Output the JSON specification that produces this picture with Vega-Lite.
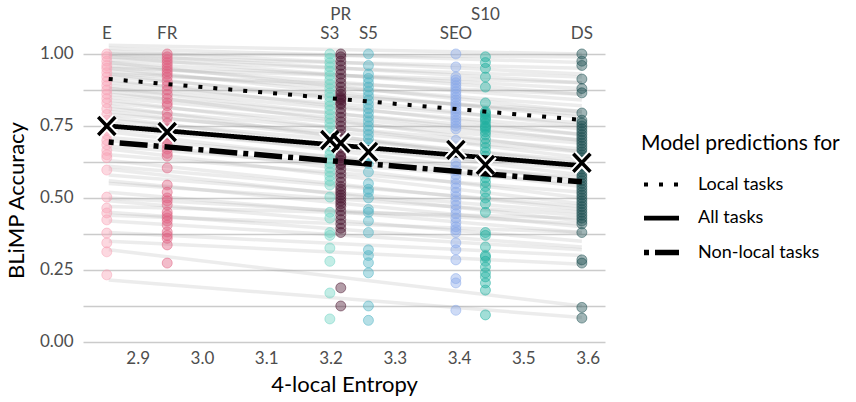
{
  "$schema": "https://vega.github.io/schema/vega-lite/v6.json",
  "width": 522,
  "height": 341,
  "autosize": {"type": "none"},
  "padding": {"left": 83, "top": 5, "right": 251, "bottom": 56},
  "background": "white",
  "config": {
    "font": "Lato",
    "view": {"stroke": null},
    "axis": {
      "ticks": false,
      "domain": false,
      "labelFont": "Lato",
      "labelFontSize": 17,
      "labelColor": "#4d4d4d",
      "titleFont": "Lato",
      "titleFontSize": 22,
      "titleFontWeight": "normal",
      "titleColor": "black",
      "labelOverlap": false
    }
  },
  "datasets": {
    "tasks": [
      {"task": 1, "entropy": 2.855, "accuracy": 1.03}, {"task": 1, "entropy": 3.591, "accuracy": 1.0},
      {"task": 2, "entropy": 2.855, "accuracy": 1.02}, {"task": 2, "entropy": 3.591, "accuracy": 0.97},
      {"task": 3, "entropy": 2.855, "accuracy": 1.01}, {"task": 3, "entropy": 3.591, "accuracy": 0.93},
      {"task": 4, "entropy": 2.855, "accuracy": 1.0}, {"task": 4, "entropy": 3.591, "accuracy": 0.99},
      {"task": 5, "entropy": 2.855, "accuracy": 1.0}, {"task": 5, "entropy": 3.591, "accuracy": 0.9},
      {"task": 6, "entropy": 2.855, "accuracy": 0.99}, {"task": 6, "entropy": 3.591, "accuracy": 0.95},
      {"task": 7, "entropy": 2.855, "accuracy": 0.99}, {"task": 7, "entropy": 3.591, "accuracy": 0.86},
      {"task": 8, "entropy": 2.855, "accuracy": 0.98}, {"task": 8, "entropy": 3.591, "accuracy": 0.92},
      {"task": 9, "entropy": 2.855, "accuracy": 0.97}, {"task": 9, "entropy": 3.591, "accuracy": 0.88},
      {"task": 10, "entropy": 2.855, "accuracy": 0.97}, {"task": 10, "entropy": 3.591, "accuracy": 0.8},
      {"task": 11, "entropy": 2.855, "accuracy": 0.96}, {"task": 11, "entropy": 3.591, "accuracy": 0.84},
      {"task": 12, "entropy": 2.855, "accuracy": 0.95}, {"task": 12, "entropy": 3.591, "accuracy": 0.9},
      {"task": 13, "entropy": 2.855, "accuracy": 0.95}, {"task": 13, "entropy": 3.591, "accuracy": 0.78},
      {"task": 14, "entropy": 2.855, "accuracy": 0.94}, {"task": 14, "entropy": 3.591, "accuracy": 0.82},
      {"task": 15, "entropy": 2.855, "accuracy": 0.93}, {"task": 15, "entropy": 3.591, "accuracy": 0.86},
      {"task": 16, "entropy": 2.855, "accuracy": 0.93}, {"task": 16, "entropy": 3.591, "accuracy": 0.75},
      {"task": 17, "entropy": 2.855, "accuracy": 0.92}, {"task": 17, "entropy": 3.591, "accuracy": 0.79},
      {"task": 18, "entropy": 2.855, "accuracy": 0.91}, {"task": 18, "entropy": 3.591, "accuracy": 0.72},
      {"task": 19, "entropy": 2.855, "accuracy": 0.9}, {"task": 19, "entropy": 3.591, "accuracy": 0.8},
      {"task": 20, "entropy": 2.855, "accuracy": 0.89}, {"task": 20, "entropy": 3.591, "accuracy": 0.76},
      {"task": 21, "entropy": 2.855, "accuracy": 0.88}, {"task": 21, "entropy": 3.591, "accuracy": 0.7},
      {"task": 22, "entropy": 2.855, "accuracy": 0.88}, {"task": 22, "entropy": 3.591, "accuracy": 0.74},
      {"task": 23, "entropy": 2.855, "accuracy": 0.87}, {"task": 23, "entropy": 3.591, "accuracy": 0.66},
      {"task": 24, "entropy": 2.855, "accuracy": 0.86}, {"task": 24, "entropy": 3.591, "accuracy": 0.72},
      {"task": 25, "entropy": 2.855, "accuracy": 0.85}, {"task": 25, "entropy": 3.591, "accuracy": 0.7},
      {"task": 26, "entropy": 2.855, "accuracy": 0.84}, {"task": 26, "entropy": 3.591, "accuracy": 0.64},
      {"task": 27, "entropy": 2.855, "accuracy": 0.83}, {"task": 27, "entropy": 3.591, "accuracy": 0.69},
      {"task": 28, "entropy": 2.855, "accuracy": 0.82}, {"task": 28, "entropy": 3.591, "accuracy": 0.6},
      {"task": 29, "entropy": 2.855, "accuracy": 0.81}, {"task": 29, "entropy": 3.591, "accuracy": 0.67},
      {"task": 30, "entropy": 2.855, "accuracy": 0.8}, {"task": 30, "entropy": 3.591, "accuracy": 0.62},
      {"task": 31, "entropy": 2.855, "accuracy": 0.79}, {"task": 31, "entropy": 3.591, "accuracy": 0.66},
      {"task": 32, "entropy": 2.855, "accuracy": 0.78}, {"task": 32, "entropy": 3.591, "accuracy": 0.58},
      {"task": 33, "entropy": 2.855, "accuracy": 0.77}, {"task": 33, "entropy": 3.591, "accuracy": 0.63},
      {"task": 34, "entropy": 2.855, "accuracy": 0.76}, {"task": 34, "entropy": 3.591, "accuracy": 0.56},
      {"task": 35, "entropy": 2.855, "accuracy": 0.74}, {"task": 35, "entropy": 3.591, "accuracy": 0.6},
      {"task": 36, "entropy": 2.855, "accuracy": 0.73}, {"task": 36, "entropy": 3.591, "accuracy": 0.54},
      {"task": 37, "entropy": 2.855, "accuracy": 0.71}, {"task": 37, "entropy": 3.591, "accuracy": 0.57},
      {"task": 38, "entropy": 2.855, "accuracy": 0.7}, {"task": 38, "entropy": 3.591, "accuracy": 0.5},
      {"task": 39, "entropy": 2.855, "accuracy": 0.68}, {"task": 39, "entropy": 3.591, "accuracy": 0.55},
      {"task": 40, "entropy": 2.855, "accuracy": 0.67}, {"task": 40, "entropy": 3.591, "accuracy": 0.48},
      {"task": 41, "entropy": 2.855, "accuracy": 0.65}, {"task": 41, "entropy": 3.591, "accuracy": 0.52},
      {"task": 42, "entropy": 2.855, "accuracy": 0.63}, {"task": 42, "entropy": 3.591, "accuracy": 0.46},
      {"task": 43, "entropy": 2.855, "accuracy": 0.61}, {"task": 43, "entropy": 3.591, "accuracy": 0.47},
      {"task": 44, "entropy": 2.855, "accuracy": 0.6}, {"task": 44, "entropy": 3.591, "accuracy": 0.42},
      {"task": 45, "entropy": 2.855, "accuracy": 0.58}, {"task": 45, "entropy": 3.591, "accuracy": 0.45},
      {"task": 46, "entropy": 2.855, "accuracy": 0.56}, {"task": 46, "entropy": 3.591, "accuracy": 0.4},
      {"task": 47, "entropy": 2.855, "accuracy": 0.55}, {"task": 47, "entropy": 3.591, "accuracy": 0.44},
      {"task": 48, "entropy": 2.855, "accuracy": 0.52}, {"task": 48, "entropy": 3.591, "accuracy": 0.38},
      {"task": 49, "entropy": 2.855, "accuracy": 0.5}, {"task": 49, "entropy": 3.591, "accuracy": 0.41},
      {"task": 50, "entropy": 2.855, "accuracy": 0.49}, {"task": 50, "entropy": 3.591, "accuracy": 0.35},
      {"task": 51, "entropy": 2.855, "accuracy": 0.47}, {"task": 51, "entropy": 3.591, "accuracy": 0.43},
      {"task": 52, "entropy": 2.855, "accuracy": 0.45}, {"task": 52, "entropy": 3.591, "accuracy": 0.33},
      {"task": 53, "entropy": 2.855, "accuracy": 0.44}, {"task": 53, "entropy": 3.591, "accuracy": 0.38},
      {"task": 54, "entropy": 2.855, "accuracy": 0.42}, {"task": 54, "entropy": 3.591, "accuracy": 0.32},
      {"task": 55, "entropy": 2.855, "accuracy": 0.38}, {"task": 55, "entropy": 3.591, "accuracy": 0.3},
      {"task": 56, "entropy": 2.855, "accuracy": 0.35}, {"task": 56, "entropy": 3.591, "accuracy": 0.27},
      {"task": 57, "entropy": 2.855, "accuracy": 0.32}, {"task": 57, "entropy": 3.591, "accuracy": 0.125},
      {"task": 58, "entropy": 2.855, "accuracy": 0.215}, {"task": 58, "entropy": 3.591, "accuracy": 0.085}
    ],
    "points": [
      {"model": "E", "entropy": 2.852, "accuracy": 1.0}, {"model": "E", "entropy": 2.852, "accuracy": 0.99}, {"model": "E", "entropy": 2.852, "accuracy": 0.975}, {"model": "E", "entropy": 2.852, "accuracy": 0.96}, {"model": "E", "entropy": 2.852, "accuracy": 0.95}, {"model": "E", "entropy": 2.852, "accuracy": 0.935}, {"model": "E", "entropy": 2.852, "accuracy": 0.92}, {"model": "E", "entropy": 2.852, "accuracy": 0.905}, {"model": "E", "entropy": 2.852, "accuracy": 0.89}, {"model": "E", "entropy": 2.852, "accuracy": 0.875}, {"model": "E", "entropy": 2.852, "accuracy": 0.86}, {"model": "E", "entropy": 2.852, "accuracy": 0.845}, {"model": "E", "entropy": 2.852, "accuracy": 0.83}, {"model": "E", "entropy": 2.852, "accuracy": 0.81}, {"model": "E", "entropy": 2.852, "accuracy": 0.79}, {"model": "E", "entropy": 2.852, "accuracy": 0.77}, {"model": "E", "entropy": 2.852, "accuracy": 0.755}, {"model": "E", "entropy": 2.852, "accuracy": 0.735}, {"model": "E", "entropy": 2.852, "accuracy": 0.72}, {"model": "E", "entropy": 2.852, "accuracy": 0.7}, {"model": "E", "entropy": 2.852, "accuracy": 0.685}, {"model": "E", "entropy": 2.852, "accuracy": 0.665}, {"model": "E", "entropy": 2.852, "accuracy": 0.65}, {"model": "E", "entropy": 2.852, "accuracy": 0.64}, {"model": "E", "entropy": 2.852, "accuracy": 0.597}, {"model": "E", "entropy": 2.852, "accuracy": 0.503}, {"model": "E", "entropy": 2.852, "accuracy": 0.465}, {"model": "E", "entropy": 2.852, "accuracy": 0.448}, {"model": "E", "entropy": 2.852, "accuracy": 0.424}, {"model": "E", "entropy": 2.852, "accuracy": 0.378}, {"model": "E", "entropy": 2.852, "accuracy": 0.344}, {"model": "E", "entropy": 2.852, "accuracy": 0.313}, {"model": "E", "entropy": 2.852, "accuracy": 0.233},
      {"model": "FR", "entropy": 2.946, "accuracy": 1.0}, {"model": "FR", "entropy": 2.946, "accuracy": 0.99}, {"model": "FR", "entropy": 2.946, "accuracy": 0.98}, {"model": "FR", "entropy": 2.946, "accuracy": 0.97}, {"model": "FR", "entropy": 2.946, "accuracy": 0.96}, {"model": "FR", "entropy": 2.946, "accuracy": 0.95}, {"model": "FR", "entropy": 2.946, "accuracy": 0.94}, {"model": "FR", "entropy": 2.946, "accuracy": 0.93}, {"model": "FR", "entropy": 2.946, "accuracy": 0.92}, {"model": "FR", "entropy": 2.946, "accuracy": 0.905}, {"model": "FR", "entropy": 2.946, "accuracy": 0.89}, {"model": "FR", "entropy": 2.946, "accuracy": 0.875}, {"model": "FR", "entropy": 2.946, "accuracy": 0.86}, {"model": "FR", "entropy": 2.946, "accuracy": 0.845}, {"model": "FR", "entropy": 2.946, "accuracy": 0.83}, {"model": "FR", "entropy": 2.946, "accuracy": 0.82}, {"model": "FR", "entropy": 2.946, "accuracy": 0.795}, {"model": "FR", "entropy": 2.946, "accuracy": 0.78}, {"model": "FR", "entropy": 2.946, "accuracy": 0.76}, {"model": "FR", "entropy": 2.946, "accuracy": 0.74}, {"model": "FR", "entropy": 2.946, "accuracy": 0.72}, {"model": "FR", "entropy": 2.946, "accuracy": 0.7}, {"model": "FR", "entropy": 2.946, "accuracy": 0.685}, {"model": "FR", "entropy": 2.946, "accuracy": 0.67}, {"model": "FR", "entropy": 2.946, "accuracy": 0.655}, {"model": "FR", "entropy": 2.946, "accuracy": 0.645}, {"model": "FR", "entropy": 2.946, "accuracy": 0.604}, {"model": "FR", "entropy": 2.946, "accuracy": 0.545}, {"model": "FR", "entropy": 2.946, "accuracy": 0.52}, {"model": "FR", "entropy": 2.946, "accuracy": 0.5}, {"model": "FR", "entropy": 2.946, "accuracy": 0.49}, {"model": "FR", "entropy": 2.946, "accuracy": 0.476}, {"model": "FR", "entropy": 2.946, "accuracy": 0.451}, {"model": "FR", "entropy": 2.946, "accuracy": 0.44}, {"model": "FR", "entropy": 2.946, "accuracy": 0.43}, {"model": "FR", "entropy": 2.946, "accuracy": 0.42}, {"model": "FR", "entropy": 2.946, "accuracy": 0.406}, {"model": "FR", "entropy": 2.946, "accuracy": 0.382}, {"model": "FR", "entropy": 2.946, "accuracy": 0.37}, {"model": "FR", "entropy": 2.946, "accuracy": 0.36}, {"model": "FR", "entropy": 2.946, "accuracy": 0.337}, {"model": "FR", "entropy": 2.946, "accuracy": 0.274},
      {"model": "S3", "entropy": 3.199, "accuracy": 1.0}, {"model": "S3", "entropy": 3.199, "accuracy": 0.985}, {"model": "S3", "entropy": 3.199, "accuracy": 0.97}, {"model": "S3", "entropy": 3.199, "accuracy": 0.955}, {"model": "S3", "entropy": 3.199, "accuracy": 0.94}, {"model": "S3", "entropy": 3.199, "accuracy": 0.925}, {"model": "S3", "entropy": 3.199, "accuracy": 0.91}, {"model": "S3", "entropy": 3.199, "accuracy": 0.895}, {"model": "S3", "entropy": 3.199, "accuracy": 0.88}, {"model": "S3", "entropy": 3.199, "accuracy": 0.865}, {"model": "S3", "entropy": 3.199, "accuracy": 0.85}, {"model": "S3", "entropy": 3.199, "accuracy": 0.835}, {"model": "S3", "entropy": 3.199, "accuracy": 0.82}, {"model": "S3", "entropy": 3.199, "accuracy": 0.805}, {"model": "S3", "entropy": 3.199, "accuracy": 0.79}, {"model": "S3", "entropy": 3.199, "accuracy": 0.775}, {"model": "S3", "entropy": 3.199, "accuracy": 0.76}, {"model": "S3", "entropy": 3.199, "accuracy": 0.745}, {"model": "S3", "entropy": 3.199, "accuracy": 0.725}, {"model": "S3", "entropy": 3.199, "accuracy": 0.71}, {"model": "S3", "entropy": 3.199, "accuracy": 0.695}, {"model": "S3", "entropy": 3.199, "accuracy": 0.68}, {"model": "S3", "entropy": 3.199, "accuracy": 0.665}, {"model": "S3", "entropy": 3.199, "accuracy": 0.65}, {"model": "S3", "entropy": 3.199, "accuracy": 0.635}, {"model": "S3", "entropy": 3.199, "accuracy": 0.62}, {"model": "S3", "entropy": 3.199, "accuracy": 0.605}, {"model": "S3", "entropy": 3.199, "accuracy": 0.59}, {"model": "S3", "entropy": 3.199, "accuracy": 0.575}, {"model": "S3", "entropy": 3.199, "accuracy": 0.56}, {"model": "S3", "entropy": 3.199, "accuracy": 0.545}, {"model": "S3", "entropy": 3.199, "accuracy": 0.503}, {"model": "S3", "entropy": 3.199, "accuracy": 0.45}, {"model": "S3", "entropy": 3.199, "accuracy": 0.43}, {"model": "S3", "entropy": 3.199, "accuracy": 0.38}, {"model": "S3", "entropy": 3.199, "accuracy": 0.37}, {"model": "S3", "entropy": 3.199, "accuracy": 0.326}, {"model": "S3", "entropy": 3.199, "accuracy": 0.28}, {"model": "S3", "entropy": 3.199, "accuracy": 0.17}, {"model": "S3", "entropy": 3.199, "accuracy": 0.08},
      {"model": "PR", "entropy": 3.216, "accuracy": 1.0}, {"model": "PR", "entropy": 3.216, "accuracy": 0.99}, {"model": "PR", "entropy": 3.216, "accuracy": 0.975}, {"model": "PR", "entropy": 3.216, "accuracy": 0.96}, {"model": "PR", "entropy": 3.216, "accuracy": 0.945}, {"model": "PR", "entropy": 3.216, "accuracy": 0.93}, {"model": "PR", "entropy": 3.216, "accuracy": 0.915}, {"model": "PR", "entropy": 3.216, "accuracy": 0.9}, {"model": "PR", "entropy": 3.216, "accuracy": 0.885}, {"model": "PR", "entropy": 3.216, "accuracy": 0.87}, {"model": "PR", "entropy": 3.216, "accuracy": 0.86}, {"model": "PR", "entropy": 3.216, "accuracy": 0.85}, {"model": "PR", "entropy": 3.216, "accuracy": 0.845}, {"model": "PR", "entropy": 3.216, "accuracy": 0.84}, {"model": "PR", "entropy": 3.216, "accuracy": 0.83}, {"model": "PR", "entropy": 3.216, "accuracy": 0.825}, {"model": "PR", "entropy": 3.216, "accuracy": 0.81}, {"model": "PR", "entropy": 3.216, "accuracy": 0.795}, {"model": "PR", "entropy": 3.216, "accuracy": 0.78}, {"model": "PR", "entropy": 3.216, "accuracy": 0.765}, {"model": "PR", "entropy": 3.216, "accuracy": 0.75}, {"model": "PR", "entropy": 3.216, "accuracy": 0.735}, {"model": "PR", "entropy": 3.216, "accuracy": 0.72}, {"model": "PR", "entropy": 3.216, "accuracy": 0.705}, {"model": "PR", "entropy": 3.216, "accuracy": 0.69}, {"model": "PR", "entropy": 3.216, "accuracy": 0.675}, {"model": "PR", "entropy": 3.216, "accuracy": 0.66}, {"model": "PR", "entropy": 3.216, "accuracy": 0.645}, {"model": "PR", "entropy": 3.216, "accuracy": 0.64}, {"model": "PR", "entropy": 3.216, "accuracy": 0.63}, {"model": "PR", "entropy": 3.216, "accuracy": 0.62}, {"model": "PR", "entropy": 3.216, "accuracy": 0.615}, {"model": "PR", "entropy": 3.216, "accuracy": 0.6}, {"model": "PR", "entropy": 3.216, "accuracy": 0.585}, {"model": "PR", "entropy": 3.216, "accuracy": 0.57}, {"model": "PR", "entropy": 3.216, "accuracy": 0.555}, {"model": "PR", "entropy": 3.216, "accuracy": 0.54}, {"model": "PR", "entropy": 3.216, "accuracy": 0.53}, {"model": "PR", "entropy": 3.216, "accuracy": 0.52}, {"model": "PR", "entropy": 3.216, "accuracy": 0.51}, {"model": "PR", "entropy": 3.216, "accuracy": 0.5}, {"model": "PR", "entropy": 3.216, "accuracy": 0.49}, {"model": "PR", "entropy": 3.216, "accuracy": 0.48}, {"model": "PR", "entropy": 3.216, "accuracy": 0.47}, {"model": "PR", "entropy": 3.216, "accuracy": 0.455}, {"model": "PR", "entropy": 3.216, "accuracy": 0.44}, {"model": "PR", "entropy": 3.216, "accuracy": 0.425}, {"model": "PR", "entropy": 3.216, "accuracy": 0.41}, {"model": "PR", "entropy": 3.216, "accuracy": 0.395}, {"model": "PR", "entropy": 3.216, "accuracy": 0.38}, {"model": "PR", "entropy": 3.216, "accuracy": 0.188}, {"model": "PR", "entropy": 3.216, "accuracy": 0.125},
      {"model": "S5", "entropy": 3.259, "accuracy": 1.0}, {"model": "S5", "entropy": 3.259, "accuracy": 0.96}, {"model": "S5", "entropy": 3.259, "accuracy": 0.93}, {"model": "S5", "entropy": 3.259, "accuracy": 0.915}, {"model": "S5", "entropy": 3.259, "accuracy": 0.9}, {"model": "S5", "entropy": 3.259, "accuracy": 0.885}, {"model": "S5", "entropy": 3.259, "accuracy": 0.87}, {"model": "S5", "entropy": 3.259, "accuracy": 0.855}, {"model": "S5", "entropy": 3.259, "accuracy": 0.84}, {"model": "S5", "entropy": 3.259, "accuracy": 0.825}, {"model": "S5", "entropy": 3.259, "accuracy": 0.81}, {"model": "S5", "entropy": 3.259, "accuracy": 0.795}, {"model": "S5", "entropy": 3.259, "accuracy": 0.78}, {"model": "S5", "entropy": 3.259, "accuracy": 0.765}, {"model": "S5", "entropy": 3.259, "accuracy": 0.75}, {"model": "S5", "entropy": 3.259, "accuracy": 0.735}, {"model": "S5", "entropy": 3.259, "accuracy": 0.72}, {"model": "S5", "entropy": 3.259, "accuracy": 0.705}, {"model": "S5", "entropy": 3.259, "accuracy": 0.69}, {"model": "S5", "entropy": 3.259, "accuracy": 0.675}, {"model": "S5", "entropy": 3.259, "accuracy": 0.66}, {"model": "S5", "entropy": 3.259, "accuracy": 0.645}, {"model": "S5", "entropy": 3.259, "accuracy": 0.63}, {"model": "S5", "entropy": 3.259, "accuracy": 0.62}, {"model": "S5", "entropy": 3.259, "accuracy": 0.59}, {"model": "S5", "entropy": 3.259, "accuracy": 0.55}, {"model": "S5", "entropy": 3.259, "accuracy": 0.53}, {"model": "S5", "entropy": 3.259, "accuracy": 0.52}, {"model": "S5", "entropy": 3.259, "accuracy": 0.5}, {"model": "S5", "entropy": 3.259, "accuracy": 0.46}, {"model": "S5", "entropy": 3.259, "accuracy": 0.45}, {"model": "S5", "entropy": 3.259, "accuracy": 0.42}, {"model": "S5", "entropy": 3.259, "accuracy": 0.38}, {"model": "S5", "entropy": 3.259, "accuracy": 0.32}, {"model": "S5", "entropy": 3.259, "accuracy": 0.3}, {"model": "S5", "entropy": 3.259, "accuracy": 0.275}, {"model": "S5", "entropy": 3.259, "accuracy": 0.24}, {"model": "S5", "entropy": 3.259, "accuracy": 0.125}, {"model": "S5", "entropy": 3.259, "accuracy": 0.075},
      {"model": "SEO", "entropy": 3.395, "accuracy": 1.0}, {"model": "SEO", "entropy": 3.395, "accuracy": 0.955}, {"model": "SEO", "entropy": 3.395, "accuracy": 0.92}, {"model": "SEO", "entropy": 3.395, "accuracy": 0.91}, {"model": "SEO", "entropy": 3.395, "accuracy": 0.9}, {"model": "SEO", "entropy": 3.395, "accuracy": 0.89}, {"model": "SEO", "entropy": 3.395, "accuracy": 0.88}, {"model": "SEO", "entropy": 3.395, "accuracy": 0.87}, {"model": "SEO", "entropy": 3.395, "accuracy": 0.86}, {"model": "SEO", "entropy": 3.395, "accuracy": 0.85}, {"model": "SEO", "entropy": 3.395, "accuracy": 0.84}, {"model": "SEO", "entropy": 3.395, "accuracy": 0.83}, {"model": "SEO", "entropy": 3.395, "accuracy": 0.82}, {"model": "SEO", "entropy": 3.395, "accuracy": 0.81}, {"model": "SEO", "entropy": 3.395, "accuracy": 0.8}, {"model": "SEO", "entropy": 3.395, "accuracy": 0.79}, {"model": "SEO", "entropy": 3.395, "accuracy": 0.78}, {"model": "SEO", "entropy": 3.395, "accuracy": 0.77}, {"model": "SEO", "entropy": 3.395, "accuracy": 0.76}, {"model": "SEO", "entropy": 3.395, "accuracy": 0.75}, {"model": "SEO", "entropy": 3.395, "accuracy": 0.74}, {"model": "SEO", "entropy": 3.395, "accuracy": 0.7}, {"model": "SEO", "entropy": 3.395, "accuracy": 0.625}, {"model": "SEO", "entropy": 3.395, "accuracy": 0.61}, {"model": "SEO", "entropy": 3.395, "accuracy": 0.595}, {"model": "SEO", "entropy": 3.395, "accuracy": 0.58}, {"model": "SEO", "entropy": 3.395, "accuracy": 0.565}, {"model": "SEO", "entropy": 3.395, "accuracy": 0.55}, {"model": "SEO", "entropy": 3.395, "accuracy": 0.535}, {"model": "SEO", "entropy": 3.395, "accuracy": 0.52}, {"model": "SEO", "entropy": 3.395, "accuracy": 0.505}, {"model": "SEO", "entropy": 3.395, "accuracy": 0.49}, {"model": "SEO", "entropy": 3.395, "accuracy": 0.475}, {"model": "SEO", "entropy": 3.395, "accuracy": 0.46}, {"model": "SEO", "entropy": 3.395, "accuracy": 0.445}, {"model": "SEO", "entropy": 3.395, "accuracy": 0.43}, {"model": "SEO", "entropy": 3.395, "accuracy": 0.415}, {"model": "SEO", "entropy": 3.395, "accuracy": 0.4}, {"model": "SEO", "entropy": 3.395, "accuracy": 0.39}, {"model": "SEO", "entropy": 3.395, "accuracy": 0.38}, {"model": "SEO", "entropy": 3.395, "accuracy": 0.344}, {"model": "SEO", "entropy": 3.395, "accuracy": 0.32}, {"model": "SEO", "entropy": 3.395, "accuracy": 0.285}, {"model": "SEO", "entropy": 3.395, "accuracy": 0.22}, {"model": "SEO", "entropy": 3.395, "accuracy": 0.205}, {"model": "SEO", "entropy": 3.395, "accuracy": 0.11},
      {"model": "S10", "entropy": 3.441, "accuracy": 0.99}, {"model": "S10", "entropy": 3.441, "accuracy": 0.97}, {"model": "S10", "entropy": 3.441, "accuracy": 0.95}, {"model": "S10", "entropy": 3.441, "accuracy": 0.92}, {"model": "S10", "entropy": 3.441, "accuracy": 0.885}, {"model": "S10", "entropy": 3.441, "accuracy": 0.83}, {"model": "S10", "entropy": 3.441, "accuracy": 0.8}, {"model": "S10", "entropy": 3.441, "accuracy": 0.795}, {"model": "S10", "entropy": 3.441, "accuracy": 0.79}, {"model": "S10", "entropy": 3.441, "accuracy": 0.78}, {"model": "S10", "entropy": 3.441, "accuracy": 0.775}, {"model": "S10", "entropy": 3.441, "accuracy": 0.77}, {"model": "S10", "entropy": 3.441, "accuracy": 0.76}, {"model": "S10", "entropy": 3.441, "accuracy": 0.75}, {"model": "S10", "entropy": 3.441, "accuracy": 0.745}, {"model": "S10", "entropy": 3.441, "accuracy": 0.74}, {"model": "S10", "entropy": 3.441, "accuracy": 0.73}, {"model": "S10", "entropy": 3.441, "accuracy": 0.72}, {"model": "S10", "entropy": 3.441, "accuracy": 0.705}, {"model": "S10", "entropy": 3.441, "accuracy": 0.69}, {"model": "S10", "entropy": 3.441, "accuracy": 0.675}, {"model": "S10", "entropy": 3.441, "accuracy": 0.66}, {"model": "S10", "entropy": 3.441, "accuracy": 0.645}, {"model": "S10", "entropy": 3.441, "accuracy": 0.63}, {"model": "S10", "entropy": 3.441, "accuracy": 0.615}, {"model": "S10", "entropy": 3.441, "accuracy": 0.6}, {"model": "S10", "entropy": 3.441, "accuracy": 0.585}, {"model": "S10", "entropy": 3.441, "accuracy": 0.57}, {"model": "S10", "entropy": 3.441, "accuracy": 0.555}, {"model": "S10", "entropy": 3.441, "accuracy": 0.54}, {"model": "S10", "entropy": 3.441, "accuracy": 0.52}, {"model": "S10", "entropy": 3.441, "accuracy": 0.5}, {"model": "S10", "entropy": 3.441, "accuracy": 0.48}, {"model": "S10", "entropy": 3.441, "accuracy": 0.45}, {"model": "S10", "entropy": 3.441, "accuracy": 0.38}, {"model": "S10", "entropy": 3.441, "accuracy": 0.37}, {"model": "S10", "entropy": 3.441, "accuracy": 0.33}, {"model": "S10", "entropy": 3.441, "accuracy": 0.3}, {"model": "S10", "entropy": 3.441, "accuracy": 0.295}, {"model": "S10", "entropy": 3.441, "accuracy": 0.28}, {"model": "S10", "entropy": 3.441, "accuracy": 0.26}, {"model": "S10", "entropy": 3.441, "accuracy": 0.24}, {"model": "S10", "entropy": 3.441, "accuracy": 0.226}, {"model": "S10", "entropy": 3.441, "accuracy": 0.205}, {"model": "S10", "entropy": 3.441, "accuracy": 0.18}, {"model": "S10", "entropy": 3.441, "accuracy": 0.094},
      {"model": "DS", "entropy": 3.591, "accuracy": 1.0}, {"model": "DS", "entropy": 3.591, "accuracy": 0.975}, {"model": "DS", "entropy": 3.591, "accuracy": 0.96}, {"model": "DS", "entropy": 3.591, "accuracy": 0.913}, {"model": "DS", "entropy": 3.591, "accuracy": 0.88}, {"model": "DS", "entropy": 3.591, "accuracy": 0.865}, {"model": "DS", "entropy": 3.591, "accuracy": 0.795}, {"model": "DS", "entropy": 3.591, "accuracy": 0.77}, {"model": "DS", "entropy": 3.591, "accuracy": 0.76}, {"model": "DS", "entropy": 3.591, "accuracy": 0.75}, {"model": "DS", "entropy": 3.591, "accuracy": 0.74}, {"model": "DS", "entropy": 3.591, "accuracy": 0.73}, {"model": "DS", "entropy": 3.591, "accuracy": 0.72}, {"model": "DS", "entropy": 3.591, "accuracy": 0.71}, {"model": "DS", "entropy": 3.591, "accuracy": 0.7}, {"model": "DS", "entropy": 3.591, "accuracy": 0.69}, {"model": "DS", "entropy": 3.591, "accuracy": 0.68}, {"model": "DS", "entropy": 3.591, "accuracy": 0.67}, {"model": "DS", "entropy": 3.591, "accuracy": 0.66}, {"model": "DS", "entropy": 3.591, "accuracy": 0.65}, {"model": "DS", "entropy": 3.591, "accuracy": 0.64}, {"model": "DS", "entropy": 3.591, "accuracy": 0.63}, {"model": "DS", "entropy": 3.591, "accuracy": 0.62}, {"model": "DS", "entropy": 3.591, "accuracy": 0.61}, {"model": "DS", "entropy": 3.591, "accuracy": 0.6}, {"model": "DS", "entropy": 3.591, "accuracy": 0.59}, {"model": "DS", "entropy": 3.591, "accuracy": 0.58}, {"model": "DS", "entropy": 3.591, "accuracy": 0.57}, {"model": "DS", "entropy": 3.591, "accuracy": 0.56}, {"model": "DS", "entropy": 3.591, "accuracy": 0.55}, {"model": "DS", "entropy": 3.591, "accuracy": 0.54}, {"model": "DS", "entropy": 3.591, "accuracy": 0.53}, {"model": "DS", "entropy": 3.591, "accuracy": 0.52}, {"model": "DS", "entropy": 3.591, "accuracy": 0.51}, {"model": "DS", "entropy": 3.591, "accuracy": 0.5}, {"model": "DS", "entropy": 3.591, "accuracy": 0.49}, {"model": "DS", "entropy": 3.591, "accuracy": 0.48}, {"model": "DS", "entropy": 3.591, "accuracy": 0.47}, {"model": "DS", "entropy": 3.591, "accuracy": 0.46}, {"model": "DS", "entropy": 3.591, "accuracy": 0.45}, {"model": "DS", "entropy": 3.591, "accuracy": 0.44}, {"model": "DS", "entropy": 3.591, "accuracy": 0.43}, {"model": "DS", "entropy": 3.591, "accuracy": 0.42}, {"model": "DS", "entropy": 3.591, "accuracy": 0.41}, {"model": "DS", "entropy": 3.591, "accuracy": 0.38}, {"model": "DS", "entropy": 3.591, "accuracy": 0.285}, {"model": "DS", "entropy": 3.591, "accuracy": 0.274}, {"model": "DS", "entropy": 3.591, "accuracy": 0.12}, {"model": "DS", "entropy": 3.591, "accuracy": 0.083}
    ],
    "fits": [
      {"fit": "Local tasks", "entropy": 2.855, "accuracy": 0.913}, {"fit": "Local tasks", "entropy": 3.591, "accuracy": 0.771},
      {"fit": "All tasks", "entropy": 2.855, "accuracy": 0.75}, {"fit": "All tasks", "entropy": 3.591, "accuracy": 0.612},
      {"fit": "Non-local tasks", "entropy": 2.855, "accuracy": 0.694}, {"fit": "Non-local tasks", "entropy": 3.591, "accuracy": 0.556}
    ],
    "means": [
      {"model": "E", "entropy": 2.852, "accuracy": 0.75},
      {"model": "FR", "entropy": 2.946, "accuracy": 0.729},
      {"model": "S3", "entropy": 3.199, "accuracy": 0.701},
      {"model": "PR", "entropy": 3.216, "accuracy": 0.691},
      {"model": "S5", "entropy": 3.259, "accuracy": 0.66},
      {"model": "SEO", "entropy": 3.395, "accuracy": 0.667},
      {"model": "S10", "entropy": 3.441, "accuracy": 0.615},
      {"model": "DS", "entropy": 3.591, "accuracy": 0.622}
    ],
    "labels": [
      {"model": "E", "entropy": 2.852, "accuracy": 1.071},
      {"model": "FR", "entropy": 2.946, "accuracy": 1.071},
      {"model": "S3", "entropy": 3.199, "accuracy": 1.071},
      {"model": "PR", "entropy": 3.216, "accuracy": 1.134},
      {"model": "S5", "entropy": 3.259, "accuracy": 1.071},
      {"model": "SEO", "entropy": 3.395, "accuracy": 1.071},
      {"model": "S10", "entropy": 3.441, "accuracy": 1.134},
      {"model": "DS", "entropy": 3.591, "accuracy": 1.071}
    ]
  },
  "encoding": {
    "x": {
      "field": "entropy",
      "type": "quantitative",
      "scale": {"domain": [2.815, 3.627], "nice": false, "zero": false},
      "axis": {
        "title": "4-local Entropy",
        "values": [2.9, 3.0, 3.1, 3.2, 3.3, 3.4, 3.5, 3.6],
        "format": ".1f",
        "grid": false,
        "tickSize": 0,
        "labelPadding": 4,
        "titleY": 38,
        "titleBaseline": "middle"
      }
    },
    "y": {
      "field": "accuracy",
      "type": "quantitative",
      "scale": {"domain": [-0.014, 1.17], "nice": false, "zero": false},
      "axis": {
        "title": "BLiMP Accuracy",
        "values": [0, 0.125, 0.25, 0.375, 0.5, 0.625, 0.75, 0.875, 1],
        "labelExpr": "datum.value * 4 % 1 == 0 ? format(datum.value, '.2f') : ''",
        "grid": true,
        "gridColor": "#cbcbcb",
        "gridWidth": 1.5,
        "tickSize": 0,
        "labelPadding": 10,
        "titleAngle": 270,
        "titleAlign": "center",
        "titleBaseline": "middle",
        "titleX": -67,
        "titleY": 195
      }
    }
  },
  "layer": [
    {
      "data": {"name": "tasks"},
      "mark": {"type": "line", "stroke": "#9e9e9e", "strokeOpacity": 0.2, "strokeWidth": 3.5},
      "encoding": {"detail": {"field": "task", "type": "nominal"}}
    },
    {
      "data": {"name": "points"},
      "mark": {"type": "point", "filled": true, "shape": "circle", "size": 100, "fillOpacity": 0.42, "strokeOpacity": 0.5, "strokeWidth": 1},
      "encoding": {
        "fill": {
          "field": "model", "type": "nominal", "legend": null,
          "scale": {"domain": ["E", "FR", "S3", "PR", "S5", "SEO", "S10", "DS"], "range": ["#f7a1b5", "#e05f80", "#6fd3c3", "#4b1630", "#4fb3c3", "#8aaaea", "#1fb0a0", "#1c4f52"]}
        },
        "stroke": {
          "field": "model", "type": "nominal", "legend": null,
          "scale": {"domain": ["E", "FR", "S3", "PR", "S5", "SEO", "S10", "DS"], "range": ["#f7a1b5", "#e05f80", "#6fd3c3", "#4b1630", "#4fb3c3", "#8aaaea", "#1fb0a0", "#1c4f52"]}
        }
      }
    },
    {
      "data": {"name": "fits"},
      "mark": {"type": "line", "stroke": "black", "strokeCap": "butt"},
      "encoding": {
        "strokeDash": {
          "field": "fit", "type": "nominal",
          "scale": {"domain": ["Local tasks", "All tasks", "Non-local tasks"], "range": [[4, 11], [1, 0], [5, 6, 28, 6]]},
          "legend": {
            "orient": "none",
            "legendX": 558,
            "legendY": 128,
            "title": "Model predictions for",
            "titleFont": "Lato",
            "titleFontSize": 21,
            "titleFontWeight": "normal",
            "titleColor": "black",
            "titleLimit": 400,
            "titlePadding": 11,
            "labelFont": "Lato",
            "labelFontSize": 18,
            "labelColor": "black",
            "labelLimit": 300,
            "labelOffset": 16,
            "symbolType": "stroke",
            "symbolSize": 1225,
            "symbolStrokeWidth": 4,
            "symbolStrokeColor": "black",
            "rowPadding": 4
          }
        },
        "strokeWidth": {
          "field": "fit", "type": "nominal", "legend": null,
          "scale": {"domain": ["Local tasks", "All tasks", "Non-local tasks"], "range": [4, 5.5, 4.2]}
        }
      }
    },
    {
      "data": {"name": "means"},
      "mark": {"type": "point", "filled": false, "shape": "M-0.95,-1L0.95,1M0.95,-1L-0.95,1", "size": 324, "stroke": "white", "strokeWidth": 7.5, "opacity": 1}
    },
    {
      "data": {"name": "means"},
      "mark": {"type": "point", "filled": false, "shape": "M-0.95,-1L0.95,1M0.95,-1L-0.95,1", "size": 324, "stroke": "black", "strokeWidth": 3.5, "opacity": 1}
    },
    {
      "data": {"name": "labels"},
      "mark": {"type": "text", "font": "Lato", "fontSize": 17, "fill": "#4d4d4d", "baseline": "middle", "align": "center"},
      "encoding": {"text": {"field": "model", "type": "nominal"}}
    }
  ]
}
